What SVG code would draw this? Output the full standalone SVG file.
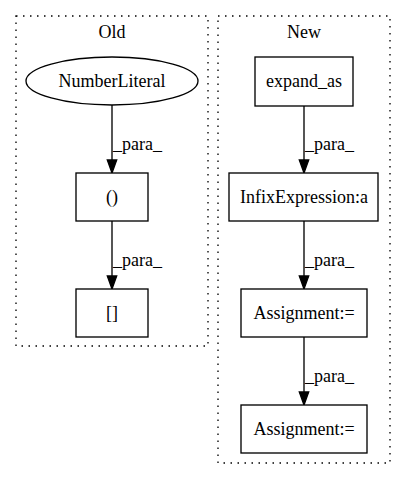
<svg xmlns="http://www.w3.org/2000/svg" width="405" height="480" viewBox="0 0 405 480">
<defs>
<style>
.cl{fill:none;stroke:#000;stroke-width:1.33;stroke-dasharray:1.5,5.5}
.nd{fill:#fff;stroke:#000;stroke-width:1.33}
.t{font-family:"Liberation Serif","Times New Roman",serif;font-size:18px;fill:#000}
.m{text-anchor:middle}
.e{stroke:#000;stroke-width:1.33;fill:none}
.ah{fill:#000;stroke:#000;stroke-width:1.33}
</style>
</defs>
<rect width="405" height="480" fill="#fff"/>
<g id="cluster_old">
<rect class="cl" x="16" y="16" width="192" height="330"/>
<text class="t m" x="112" y="38">Old</text>
</g>
<g id="cluster_new">
<rect class="cl" x="218" y="16" width="172" height="447"/>
<text class="t m" x="304" y="38">New</text>
</g>
<g id="connectors">
<path class="e" d="M112,105 V160"/>
<polygon class="ah" points="107.3,160 116.7,160 112,173"/>
<text class="t" x="113" y="150">_para_</text>
<path class="e" d="M112,221 V276"/>
<polygon class="ah" points="107.3,276 116.7,276 112,289"/>
<text class="t" x="113" y="266">_para_</text>
<path class="e" d="M304,106 V160"/>
<polygon class="ah" points="299.3,160 308.7,160 304,173"/>
<text class="t" x="305" y="150">_para_</text>
<path class="e" d="M304,221 V276"/>
<polygon class="ah" points="299.3,276 308.7,276 304,289"/>
<text class="t" x="305" y="266">_para_</text>
<path class="e" d="M304,337 V392"/>
<polygon class="ah" points="299.3,392 308.7,392 304,405"/>
<text class="t" x="305" y="382">_para_</text>
</g>
<g id="NumberLiteral">
<ellipse class="nd" cx="112" cy="81" rx="86" ry="24"/>
<text class="t m" x="112" y="87">NumberLiteral</text>
</g>
<g id="paren">
<rect class="nd" x="76" y="173" width="72" height="48"/>
<text class="t m" x="112" y="203">()</text>
</g>
<g id="bracket">
<rect class="nd" x="76" y="289" width="72" height="48"/>
<text class="t m" x="112" y="319">[]</text>
</g>
<g id="expand_as">
<rect class="nd" x="255" y="57" width="98" height="49"/>
<text class="t m" x="304" y="87">expand_as</text>
</g>
<g id="InfixExpression">
<rect class="nd" x="229" y="173" width="149" height="48"/>
<text class="t m" x="304" y="203">InfixExpression:a</text>
</g>
<g id="Assignment1">
<rect class="nd" x="241" y="289" width="126" height="48"/>
<text class="t m" x="304" y="319">Assignment:=</text>
</g>
<g id="Assignment2">
<rect class="nd" x="241" y="405" width="126" height="48"/>
<text class="t m" x="304" y="435">Assignment:=</text>
</g>
</svg>
